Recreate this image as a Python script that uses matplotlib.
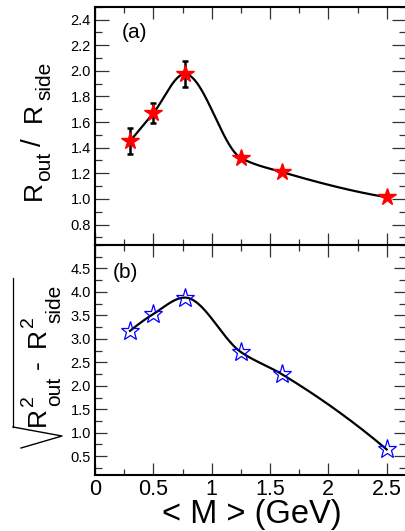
import numpy as np
import matplotlib
matplotlib.use("Agg")
import matplotlib.pyplot as plt
from matplotlib.ticker import MultipleLocator, FixedLocator
from matplotlib.lines import Line2D

plt.rcParams['font.family'] = ['Liberation Sans', 'DejaVu Sans']

# ---- data ----
mass = [0.30, 0.50, 0.77, 1.25, 1.60, 2.50]
ratio = [1.45, 1.67, 1.975, 1.32, 1.21, 1.013]
ratio_err = [0.10, 0.08, 0.10, 0.0, 0.0, 0.0]
diff_r = [3.17, 3.53, 3.88, 2.72, 2.25, 0.645]

x_ticks = [0, 0.5, 1, 1.5, 2, 2.5]
x_tick_labels = ['0', '0.5', '1', '1.5', '2', '2.5']
top_ticks = [0.8, 1.0, 1.2, 1.4, 1.6, 1.8, 2.0, 2.2, 2.4]
bot_ticks = [0.5, 1.0, 1.5, 2.0, 2.5, 3.0, 3.5, 4.0, 4.5]


def pchip(x, y, xs):
    x = np.asarray(x, float); y = np.asarray(y, float)
    n = len(x)
    h = np.diff(x); d = np.diff(y) / h
    m = np.zeros(n)
    for k in range(1, n - 1):
        if d[k - 1] * d[k] > 0:
            w1 = 2 * h[k] + h[k - 1]; w2 = h[k] + 2 * h[k - 1]
            m[k] = (w1 + w2) / (w1 / d[k - 1] + w2 / d[k])

    def end(h0, h1, d0, d1):
        s = ((2 * h0 + h1) * d0 - h0 * d1) / (h0 + h1)
        if np.sign(s) != np.sign(d0):
            s = 0.0
        elif np.sign(d0) != np.sign(d1) and abs(s) > abs(3 * d0):
            s = 3 * d0
        return s
    m[0] = end(h[0], h[1], d[0], d[1])
    m[-1] = end(h[-1], h[-2], d[-1], d[-2])
    out = np.empty_like(xs)
    for j, t in enumerate(xs):
        i = min(max(np.searchsorted(x, t) - 1, 0), n - 2)
        s = (t - x[i]) / h[i]
        h00 = 2 * s**3 - 3 * s**2 + 1; h10 = s**3 - 2 * s**2 + s
        h01 = -2 * s**3 + 3 * s**2; h11 = s**3 - s**2
        out[j] = h00 * y[i] + h10 * h[i] * m[i] + h01 * y[i + 1] + h11 * h[i] * m[i + 1]
    return out


W, H = 406, 531
fig = plt.figure(figsize=(W / 100, H / 100), dpi=100)
left = 95 / W
width = (406.5 - 95) / W
y_top = 1 - 6.7 / H
y_mid = 1 - 245 / H
y_bot = 1 - 475 / H
ax1 = fig.add_axes([left, y_mid, width, y_top - y_mid])
ax2 = fig.add_axes([left, y_bot, width, y_mid - y_bot], sharex=ax1)

xs = np.linspace(mass[0], mass[-1], 400)

# top panel
ax1.plot(xs, pchip(mass, ratio, xs), color='black', lw=1.6, zorder=2)
ax1.errorbar(mass[:3], ratio[:3], yerr=ratio_err[:3], fmt='none', ecolor='black',
             elinewidth=1.8, capsize=2, capthick=1.8, zorder=3)
ax1.plot(mass, ratio, linestyle='none', marker='*', ms=13, color='red',
         markeredgecolor='red', zorder=4)
ax1.set_ylim(0.64, 2.50)
ax1.yaxis.set_major_locator(FixedLocator(top_ticks))
ax1.yaxis.set_minor_locator(MultipleLocator(0.1))
ax1.set_yticklabels([f'{v:.1f}' for v in top_ticks])

# bottom panel
ax2.plot(xs, pchip(mass, diff_r, xs), color='black', lw=1.6, zorder=2)
ax2.plot(mass, diff_r, linestyle='none', marker='*', ms=14, markerfacecolor='none',
         markeredgecolor='blue', markeredgewidth=0.9, zorder=4)
ax2.set_ylim(0.10, 5.0)
ax2.yaxis.set_major_locator(FixedLocator(bot_ticks))
ax2.yaxis.set_minor_locator(MultipleLocator(0.25))
ax2.set_yticklabels([f'{v:.1f}' for v in bot_ticks])

ax2.set_xlim(0, 2.67)
ax2.xaxis.set_major_locator(FixedLocator(x_ticks))
ax2.xaxis.set_minor_locator(MultipleLocator(0.25))
ax2.set_xticklabels(x_tick_labels)
plt.setp(ax1.get_xticklabels(), visible=False)

for ax, ymaj in ((ax1, 10), (ax2, 8.6)):
    for s in ax.spines.values():
        s.set_linewidth(1.5)
    ax.tick_params(axis='both', which='both', direction='in', top=True, right=True,
                   color='#333333', width=0.9)
    ax.tick_params(axis='x', which='major', length=8.6)
    ax.tick_params(axis='x', which='minor', length=4.6)
    ax.tick_params(axis='y', which='major', length=ymaj, labelsize=10.5, pad=3)
    ax.tick_params(axis='y', which='minor', length=5)
ax2.tick_params(axis='x', which='major', labelsize=15.5, pad=3)


# ---- axis titles (pixel coordinates from top-left) ----
def ptext(x, y, s, size):
    """Rotated text; (x, y) = baseline start in pixels from top-left."""
    return fig.text(x, H - y, s, rotation=90, rotation_mode='anchor',
                    ha='left', va='baseline', fontsize=size, transform=None)


MAIN, SUB, SUP = 19, 15, 14
# R_out / R_side
ptext(41, 200, 'R', MAIN)
ptext(50, 181, 'out', SUB)
ptext(41, 146, '/', 20)
ptext(41, 122, 'R', MAIN)
ptext(50, 100, 'side', SUB)

# sqrt(R^2_out - R^2_side)
ptext(45, 426, 'R', MAIN)
ptext(33, 406, '2', SUP)
ptext(60, 406, 'out', SUB)
ptext(45, 369, '-', MAIN)
ptext(45, 347, 'R', MAIN)
ptext(33, 327, '2', SUP)
ptext(60, 323, 'side', SUB)
# radical sign
fig.add_artist(Line2D([13 / W, 13 / W], [1 - 278 / H, 1 - 427 / H], color='black', lw=0.9))
fig.add_artist(Line2D([13 / W, 62 / W, 21 / W],
                      [1 - 427 / H, 1 - 436 / H, 1 - 448 / H], color='black', lw=1.0))

fig.text(252 / W, 1 - 523.5 / H, '< M > (GeV)', ha='center', va='baseline', fontsize=23.5)

ax1.text(122, H - 32, '(a)', transform=None, fontsize=15, va='center', ha='left')
ax2.text(113, H - 273, '(b)', transform=None, fontsize=15, va='center', ha='left')

fig.savefig('out.png', dpi=100)
